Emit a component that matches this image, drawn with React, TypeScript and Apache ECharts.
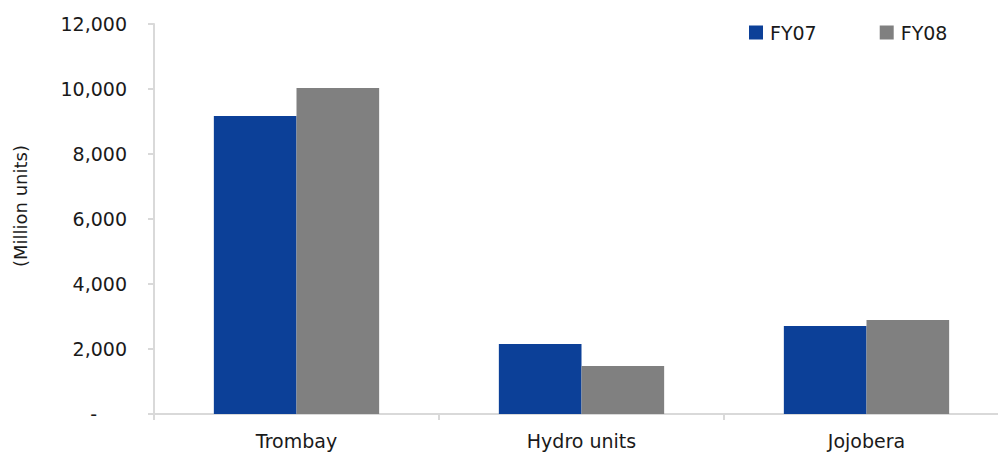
import React, { useEffect, useRef } from "react";
import * as echarts from "echarts";

const categories = ["Trombay", "Hydro units", "Jojobera"];
const fy07 = [9170, 2155, 2710];
const fy08 = [10030, 1480, 2890];
const seriesNames = ["FY07", "FY08"];
const yTicks = { min: 0, max: 12000, interval: 2000 };

const FONT = "'DejaVu Sans', Verdana, sans-serif";

export default function App() {
  const ref = useRef<HTMLDivElement>(null);
  useEffect(() => {
    if (!ref.current) return;
    const chart = echarts.init(ref.current, null, { renderer: "svg" });
    chart.setOption({
      animation: false,
      backgroundColor: "#ffffff",
      textStyle: { fontFamily: FONT },
      legend: {
        left: 744,
        top: 18,
        itemWidth: 14,
        itemHeight: 14,
        itemGap: 63,
        icon: "rect",
        textStyle: { fontSize: 19, color: "#1a1a1a", fontFamily: FONT, padding: [0, 0, 0, 2] },
        data: seriesNames,
      },
      grid: { left: 154, top: 24, width: 855, height: 390, containLabel: false },
      xAxis: {
        type: "category",
        data: categories,
        axisLine: { show: true, lineStyle: { color: "#d9d9d9", width: 2 } },
        axisTick: { show: true, alignWithLabel: false, length: 6, lineStyle: { color: "#d9d9d9", width: 2 } },
        axisLabel: { fontSize: 19, color: "#1a1a1a", margin: 17, fontFamily: FONT },
        splitLine: { show: false },
      },
      yAxis: {
        type: "value",
        min: yTicks.min,
        max: yTicks.max,
        interval: yTicks.interval,
        axisLine: { show: true, lineStyle: { color: "#d9d9d9", width: 2 } },
        axisTick: { show: true, length: 6, lineStyle: { color: "#d9d9d9", width: 2 } },
        splitLine: { show: false },
        axisLabel: {
          fontSize: 19,
          color: "#1a1a1a",
          margin: 27,
          fontFamily: FONT,
          formatter: (v: number) => (v === 0 ? "{dash|-}" : v.toLocaleString("en-US")),
          rich: {
            dash: { fontSize: 19, color: "#1a1a1a", fontFamily: FONT, padding: [0, 30, 0, 0] },
          },
        },
      },
      graphic: [
        {
          type: "text",
          x: 20,
          y: 206,
          rotation: Math.PI / 2,
          style: {
            text: "(Million units)",
            fontSize: 18,
            fontFamily: FONT,
            fill: "#1a1a1a",
            textAlign: "center",
            textVerticalAlign: "middle",
          },
        },
      ],
      series: [
        {
          name: seriesNames[0],
          type: "bar",
          data: fy07,
          barGap: "0%",
          barCategoryGap: "42%",
          itemStyle: { color: "#0c4098" },
        },
        {
          name: seriesNames[1],
          type: "bar",
          data: fy08,
          barGap: "0%",
          barCategoryGap: "42%",
          itemStyle: { color: "#808080" },
        },
      ],
    });
    return () => chart.dispose();
  }, []);
  return (
    <div style={{ position: "absolute", left: 0, top: 0, width: 998, height: 455, overflow: "hidden", background: "#fff" }}>
      <div ref={ref} style={{ width: 1012, height: 455 }} />
    </div>
  );
}
